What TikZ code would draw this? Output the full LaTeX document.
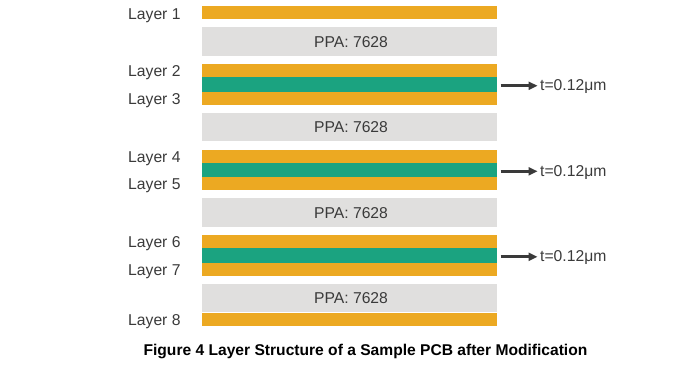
\documentclass[tikz,border=0pt]{standalone}
\usepackage{fontspec}
\setmainfont{Liberation Sans}
\usetikzlibrary{arrows.meta}
\definecolor{cuor}{HTML}{ECA922}
\definecolor{core}{HTML}{1BA380}
\definecolor{ppag}{HTML}{E0DFDE}
\definecolor{txtg}{HTML}{3A3A3A}
\begin{document}
\begin{tikzpicture}[x=1pt,y=-1pt,
  slab/.style={draw=none,inner sep=0pt,outer sep=0pt,minimum width=295pt},
  cu/.style={slab,fill=cuor,minimum height=13pt},
  gr/.style={slab,fill=core,minimum height=14.7pt},
  ppa/.style={slab,fill=ppag,minimum height=28.7pt},
  lbl/.style={anchor=base west,inner sep=0pt,text=txtg,font=\fontsize{15.7}{18}\selectfont},
  ppatxt/.style={anchor=base,inner sep=0pt,text=txtg,font=\fontsize{15.7}{18}\selectfont},
  arr/.style={draw=txtg,line width=3pt,-{Triangle[length=9pt,width=8pt]}}]
\useasboundingbox (0,0) rectangle (700,372);
% layer 1 and layer 8
\node[cu] (c1) at (349.5,12.5) {};
\node[cu] (c8) at (349.5,319) {};
\node[lbl] (l1) at (128,19) {Layer 1};
\node[lbl] (l8) at (128,325.5) {Layer 8};
% prepreg slabs
\foreach \j in {0,1,2,3}{
  \node[ppa] (p\j) at (349.5,{41.35+85.5*\j}) {};
  \node[ppatxt] (pt\j) at (351,{47.1+85.5*\j}) {PPA: 7628};
}
% core groups
\foreach \k/\a/\b in {0/2/3,1/4/5,2/6/7}{
  \pgfmathsetmacro{\base}{64+85.5*\k}
  \node[cu] (ct\k) at (349.5,\base+6.5) {};
  \node[gr] (g\k) at (349.5,\base+20.35) {};
  \node[cu] (cb\k) at (349.5,\base+34.2) {};
  \node[lbl] (la\k) at (128,\base+12.5) {Layer \a};
  \node[lbl] (lb\k) at (128,\base+40) {Layer \b};
  \node[lbl] (t\k) at (540,\base+26.9) {t=0.12μm};
  \draw[arr] ([xshift=3.7pt,yshift=-1.4pt]g\k.east) -- ([xshift=-2.5pt,yshift=-1.4pt]g\k.east -| t\k.west);
}
\node[anchor=base,inner sep=0pt,font=\bfseries\fontsize{15.6}{18}\selectfont] (cap) at (365.5,355.7) {Figure 4 Layer Structure of a Sample PCB after Modification};
\end{tikzpicture}
\end{document}
